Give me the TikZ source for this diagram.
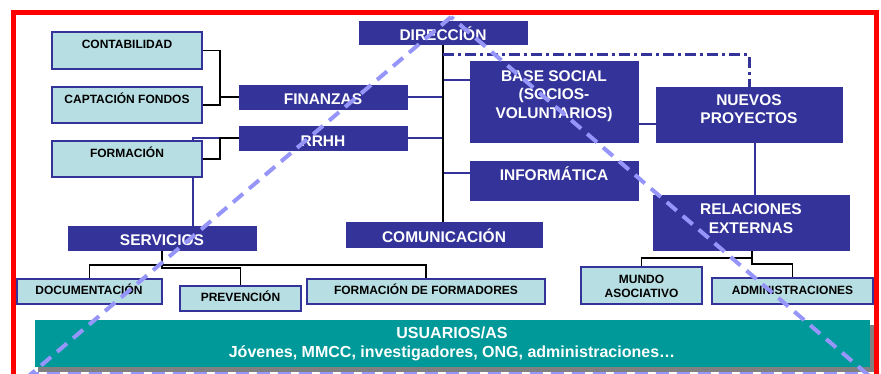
\documentclass[tikz,border=0pt]{standalone}
\usepackage{fontspec}
\setmainfont{Liberation Sans}
\usetikzlibrary{calc}
\definecolor{dblue}{RGB}{51,51,153}
\definecolor{lbox}{RGB}{183,223,227}
\definecolor{tealbox}{RGB}{0,153,153}
\definecolor{tricol}{RGB}{150,150,250}
\definecolor{shadowgray}{RGB}{128,128,128}
\definecolor{framered}{RGB}{255,0,0}
\pgfdeclarelayer{bg}
\pgfsetlayers{bg,main}
\newcommand\mkbox[6]{\node[#1, minimum width={(#5)-(#3)}, minimum height={(#6)-(#4)}] (#2) at ({((#3)+(#5))/2},{((#4)+(#6))/2}) {};}
\tikzset{
  darkbox/.style={draw=dblue, fill=dblue, line width=0.8pt, inner sep=0pt},
  lightbox/.style={draw=dblue, fill=lbox, line width=1.3pt, inner sep=0pt},
  dtextone/.style={text=white, font=\fontsize{15.5}{18.5}\selectfont\bfseries, inner sep=0pt, text height=11.1pt, text depth=0pt},
  dtextmulti/.style={text=white, font=\fontsize{15.5}{18.5}\selectfont\bfseries, inner sep=0pt, align=center},
  ltextone/.style={text=black, font=\fontsize{12}{14}\selectfont\bfseries, inner sep=0pt, text height=8.6pt, text depth=0pt},
  ltextmulti/.style={text=black, font=\fontsize{12}{14}\selectfont\bfseries, inner sep=0pt, align=center},
  utext/.style={text=white, font=\fontsize{16}{19}\selectfont\bfseries, inner sep=0pt, align=center},
  blk/.style={black, line width=1.1pt},
  blu/.style={dblue, line width=1.6pt},
  bluthick/.style={dblue, line width=2.6pt},
  dashdotline/.style={dblue, line width=3pt, dash pattern=on 11pt off 4pt on 3pt off 4pt},
  trianglestyle/.style={tricol, line width=4pt, dash pattern=on 13pt off 8pt},
}
\begin{document}
\begin{tikzpicture}[x=1pt,y=-1pt]
\useasboundingbox (0,0) rectangle (881,374);
\clip (0,0) rectangle (881,374);

% boxes
\mkbox{lightbox}{cont}{52}{32}{202}{69}
\mkbox{lightbox}{capt}{52}{87}{202}{123}
\mkbox{lightbox}{form}{52}{141}{202}{177}
\mkbox{darkbox}{fin}{239}{85}{407}{109}
\mkbox{darkbox}{rrhh}{239}{126}{407}{150}
\mkbox{darkbox}{dir}{359}{21}{527}{44}
\mkbox{darkbox}{base}{470}{61}{638}{142}
\mkbox{darkbox}{nuevos}{656}{87}{842}{142}
\mkbox{darkbox}{info}{470}{161}{638}{200}
\mkbox{darkbox}{rel}{653}{195}{849}{250}
\mkbox{darkbox}{com}{346}{222}{542}{247}
\mkbox{darkbox}{serv}{68}{226}{256}{250}
\mkbox{lightbox}{doc}{17}{279}{162}{304}
\mkbox{lightbox}{prev}{180}{286}{301}{311}
\mkbox{lightbox}{formf}{307}{279}{545}{304}
\mkbox{lightbox}{mundo}{581}{267}{702}{304}
\mkbox{lightbox}{admin}{712}{278}{873}{304}

\begin{pgfonlayer}{bg}
  \fill[white] (0,0) rectangle (881,374);
  \draw[framered, line width=5pt] (13.5,12.5) rectangle (876,420);
  % left branch
  \coordinate (jf) at (220,97);
  \coordinate (jr) at (220,138);
  \coordinate (sv) at (193,226);
  \draw[bluthick] (rrhh.west) -| (sv);
  \draw[blk] (cont.east) -| (jf) |- (capt.east);
  \draw[blk] (jf) -- (fin.west);
  \draw[blk] (form.east) -| (jr) -- (rrhh.west);
  % central spine
  \coordinate (cx) at (443,55);
  \coordinate (bj) at (443,80);
  \coordinate (ij) at (443,173);
  \coordinate (bn) at (638,124);
  \coordinate (nr) at (755,0);
  \draw[blu] (fin.east) -- (fin.east -| cx);
  \draw[bluthick] (rrhh.east) -| (cx);
  \draw[blu] (bj) -- (bj -| base.west);
  \draw[blu] (ij) -- (ij -| info.west);
  \draw[blu] (bn -| base.east) -- (bn -| nuevos.west);
  \draw[blu, line width=2pt] (nr |- nuevos.south) -- (nr |- rel.north);
  \draw[blk, line width=1.4pt] (dir.south) -- (dir.south |- com.north);
  \draw[dashdotline] (cx) -| (nuevos.north);
  % relaciones externas branch
  \coordinate (rj) at (752,258);
  \coordinate (rk) at (752,264);
  \draw[blk] (rj |- rel.south) -- (rj) -| (mundo.north);
  \draw[blk] (rj) -- (rk) -| (admin.north);
  % servicios branch
  \coordinate (sj) at (162,265);
  \coordinate (sk) at (162,268);
  \draw[blk] (serv.south) -- (sk) -| (prev.north);
  \draw[blk] (doc.north) |- (sj) -| (formf.north);
\end{pgfonlayer}

% texts
\node[ltextone] (contT) at (127,44.5) {CONTABILIDAD};
\node[ltextone] (captT) at (127,99) {CAPTACIÓN FONDOS};
\node[ltextone] (formT) at (127,153) {FORMACIÓN};
\node[dtextone] (finT) at (323,98.5) {FINANZAS};
\node[dtextone] (rrhhT) at (323,141) {RRHH};
\node[dtextone] (dirT) at (443,34.5) {DIRECCIÓN};
\node[dtextmulti] (baseT) at (554,96) {BASE SOCIAL\\(SOCIOS-\\VOLUNTARIOS)};
\node[dtextmulti] (nuevosT) at (749,109) {NUEVOS\\PROYECTOS};
\node[dtextone] (infoT) at (554,175) {INFORMÁTICA};
\node[dtextmulti] (relT) at (751,218.5) {RELACIONES\\EXTERNAS};
\node[dtextone] (comT) at (444,237) {COMUNICACIÓN};
\node[dtextone] (servT) at (162,240) {SERVICIOS};
\node[ltextone] (docT) at (89,290.5) {DOCUMENTACIÓN};
\node[ltextone] (prevT) at (240.5,297.5) {PREVENCIÓN};
\node[ltextone] (formfT) at (426,290.5) {FORMACIÓN DE FORMADORES};
\node[ltextmulti] (mundoT) at (641.5,286.5) {MUNDO\\ASOCIATIVO};
\node[ltextone] (adminT) at (792.5,290.5) {ADMINISTRACIONES};

% usuarios
\fill[shadowgray] (38,325) rectangle (873.5,372);
\node[fill=tealbox, inner sep=0pt, minimum width=835, minimum height=47] (usu) at (452.5,343.5) {};
\node[utext] (usuT) at (452,343.5) {USUARIOS/AS\\Jóvenes, MMCC, investigadores, ONG, administraciones\ldots};

% dashed pyramid overlay
\coordinate (apex) at (451,17);
\coordinate (tl) at (31,374);
\coordinate (tr) at (867,374);
\draw[trianglestyle] (apex) -- (tl) -- (tr) -- cycle;
\end{tikzpicture}
\end{document}
